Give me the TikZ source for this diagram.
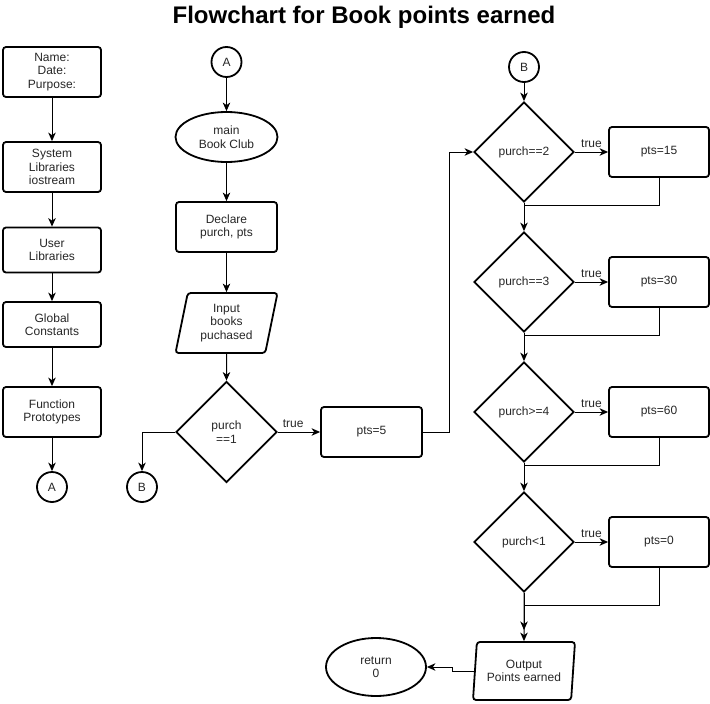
\documentclass[tikz,border=0pt]{standalone}
\usepackage{fontspec}
\setmainfont{Liberation Sans}
\usetikzlibrary{shapes.geometric,arrows.meta}
\begin{document}
\begin{tikzpicture}[x=1pt,y=-1pt,
  every node/.style={font=\fontsize{12}{13.5}\selectfont, text=black!85, align=center},
  shp/.style={draw=black, line width=1.8pt, inner sep=0pt},
  box/.style={shp, rectangle, rounded corners=3pt, minimum width=101pt, minimum height=50pt},
  lbox/.style={box, minimum width=98pt},
  conn/.style={shp, circle, minimum size=30pt},
  oval/.style={shp, ellipse, minimum width=102pt, minimum height=50pt},
  dec/.style={shp, diamond, aspect=1, minimum width=101pt, minimum height=101pt},
  io/.style={shp, trapezium, trapezium left angle=72, trapezium right angle=108,
    trapezium stretches body, rounded corners=3pt, minimum width=102pt, minimum height=60pt},
  line/.style={draw=black, line width=1pt},
  arr/.style={line, -{Stealth[length=8.5pt,width=7.5pt,inset=2.5pt]}},
  lbl/.style={font=\fontsize{12}{13.5}\selectfont, inner sep=1pt, above=2.5pt}
]
\useasboundingbox (0,0) rectangle (710,704);

\node[font=\bfseries\fontsize{24}{28}\selectfont, text=black] (title) at (364,17) {Flowchart for Book points earned};

% left column
\node[lbox] (n1) at (52,72) {Name:\\Date:\\Purpose:};
\node[lbox] (n2) at (52,167) {System\\Libraries\\iostream};
\node[lbox, minimum height=45pt] (n3) at (52,250) {User\\Libraries};
\node[lbox, minimum height=45pt] (n4) at (52,324.5) {Global\\Constants};
\node[lbox] (n5) at (52,412) {Function\\Prototypes};
\node[conn] (cA1) at (52,487) {A};

\draw[arr] (n1) -- (n2);
\draw[arr] (n2) -- (n3);
\draw[arr] (n3) -- (n4);
\draw[arr] (n4) -- (n5);
\draw[arr] (n5) -- (cA1);

% middle column
\node[conn] (cA2) at (226.5,62) {A};
\node[oval] (main) at (226.5,137) {main\\Book Club};
\node[box] (decl) at (226.5,227) {Declare\\purch, pts};
\node[io] (inp) at (226.5,323) {Input\\books\\puchased};
\node[dec] (d1) at (226.5,432) {purch\\==1};
\node[conn] (cB1) at (142,487) {B};
\node[box] (p5) at (371.5,432) {pts=5};

\draw[arr] (cA2) -- (main);
\draw[arr] (main) -- (decl);
\draw[arr] (decl) -- (inp);
\draw[arr] (inp) -- (d1);
\draw[arr] (d1.west) -| (cB1.north);
\draw[arr] (d1.east) -- node[lbl, pos=0.36] {true} (p5.west);

% right column
\node[conn] (cB2) at (524,67) {B};
\node[dec, minimum width=100pt, minimum height=100pt] (d2) at (524,152) {purch==2};
\node[dec, minimum width=100pt, minimum height=100pt] (d3) at (524,282) {purch==3};
\node[dec, minimum width=100pt, minimum height=100pt] (d4) at (524,412) {purch>=4};
\node[dec, minimum width=100pt, minimum height=100pt] (d5) at (524,542) {purch<1};
\node[box, minimum width=100pt] (p15) at (659,152) {pts=15};
\node[box, minimum width=100pt] (p30) at (659,282) {pts=30};
\node[box, minimum width=100pt] (p60) at (659,412) {pts=60};
\node[box, minimum width=100pt] (p0) at (659,542) {pts=0};
\node[io, trapezium left angle=80, trapezium right angle=100, minimum width=102pt, minimum height=58pt] (out) at (524,671) {Output\\Points earned};
\node[oval, minimum width=100pt, minimum height=58pt] (ret) at (376,667) {return\\0};

\coordinate (m1) at (524,205);
\coordinate (m2) at (524,335);
\coordinate (m3) at (524,465);
\coordinate (m4) at (524,605);
\coordinate (m5) at (524,630);

\draw[line] (p5.east) -- ++(27,0) coordinate (j1);
\draw[arr] (j1) |- (d2.west);
\draw[arr] (cB2) -- (d2);

\draw[arr] (d2.east) -- node[lbl, pos=0.5] {true} (p15.west);
\draw[arr] (d3.east) -- node[lbl, pos=0.5] {true} (p30.west);
\draw[arr] (d4.east) -- node[lbl, pos=0.5] {true} (p60.west);
\draw[arr] (d5.east) -- node[lbl, pos=0.5] {true} (p0.west);

\draw[line] (p15.south) |- (m1);
\draw[line] (p30.south) |- (m2);
\draw[line] (p60.south) |- (m3);
\draw[line] (p0.south) |- (m4);

\draw[arr] (d2.south) -- (d3.north);
\draw[arr] (d3.south) -- (d4.north);
\draw[arr] (d4.south) -- (d5.north);
\draw[arr] (d5.south) -- (m5);
\draw[arr] (d5.south) -- (out.north);

\draw[line] (out.west) -- ++(-22,0) coordinate (j2);
\draw[arr] (j2) |- (ret.east);
\end{tikzpicture}
\end{document}
